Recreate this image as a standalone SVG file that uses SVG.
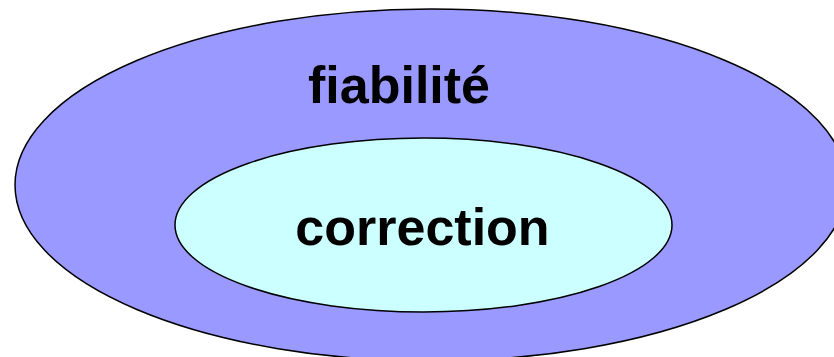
<svg xmlns="http://www.w3.org/2000/svg" width="834" height="357" viewBox="0 0 834 357">
<style>
.el{stroke:#000;stroke-width:1.5}
.lbl{font-family:"Liberation Sans",Arial,sans-serif;font-weight:bold;font-size:52px;fill:#000;text-anchor:middle}
</style>
<rect width="834" height="357" fill="#fff"/>
<g id="fiabilite">
<ellipse class="el" cx="431" cy="185" rx="416" ry="176" fill="#9999FF"/>
<text class="lbl" x="399" y="103">fiabilité</text>
</g>
<g id="correction">
<ellipse class="el" cx="423.5" cy="225" rx="248.5" ry="87" fill="#CCFFFF"/>
<text class="lbl" x="422.5" y="245">correction</text>
</g>
<g id="connectors"></g>
</svg>
